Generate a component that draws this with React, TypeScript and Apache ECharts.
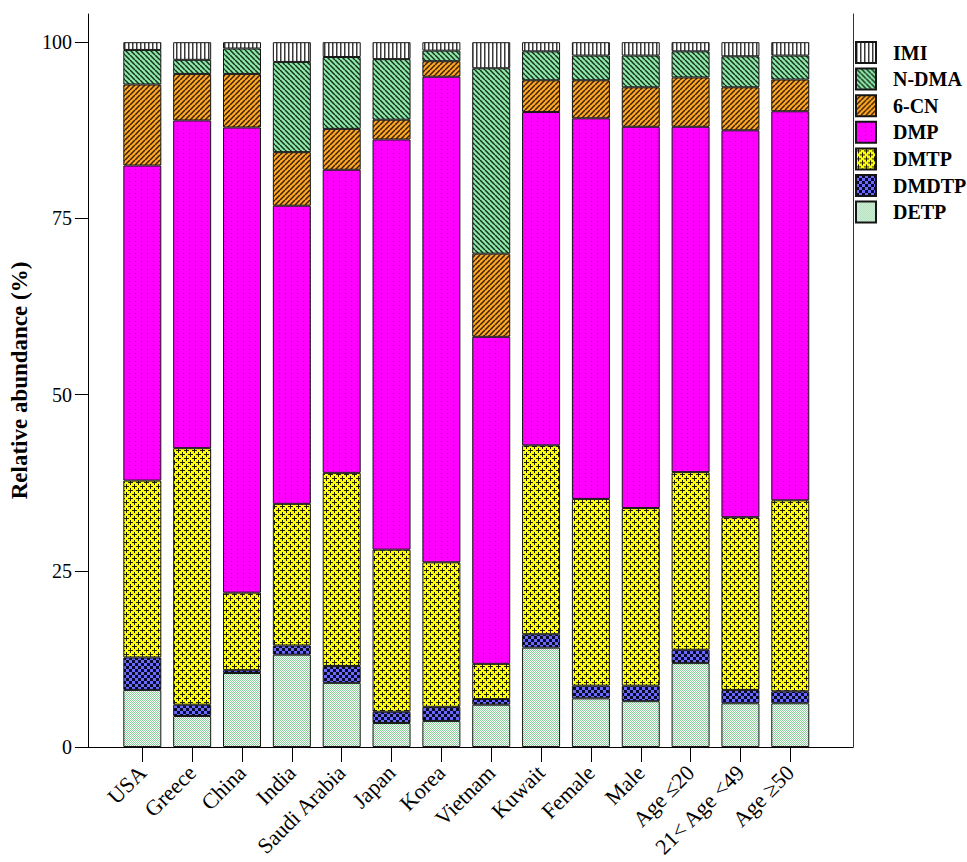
import React, { useEffect, useRef } from 'react';
import * as echarts from 'echarts';

const categories = ['USA', 'Greece', 'China', 'India', 'Saudi Arabia', 'Japan', 'Korea', 'Vietnam', 'Kuwait', 'Female', 'Male', 'Age \u226420', '21< Age <49', 'Age \u226550'];

const DETP = [8.1, 4.4, 10.5, 13.1, 9.1, 3.4, 3.7, 6.0, 14.1, 6.9, 6.5, 11.9, 6.2, 6.2];
const DMDTP = [4.6, 1.6, 0.4, 1.3, 2.4, 1.6, 2.0, 0.8, 1.9, 1.8, 2.2, 1.9, 1.9, 1.7];
const DMTP = [25.1, 36.4, 11.0, 20.1, 27.4, 23.0, 20.5, 5.0, 26.8, 26.5, 25.2, 25.2, 24.5, 27.1];
const DMP = [44.7, 46.5, 66.0, 42.3, 43.0, 58.2, 68.9, 46.4, 47.3, 54.0, 54.1, 49.0, 54.9, 55.2];
const CN6 = [11.5, 6.6, 7.6, 7.6, 5.8, 2.8, 2.2, 11.8, 4.5, 5.4, 5.6, 7.0, 6.1, 4.5];
const NDMA = [4.9, 2.0, 3.6, 12.8, 10.2, 8.6, 1.5, 26.3, 4.1, 3.5, 4.5, 3.7, 4.4, 3.4];
const IMI = [1.1, 2.5, 0.9, 2.8, 2.1, 2.4, 1.2, 3.7, 1.3, 1.9, 1.9, 1.3, 2.0, 1.9];

const seriesNames = ['DETP', 'DMDTP', 'DMTP', 'DMP', '6-CN', 'N-DMA', 'IMI'];
const seriesValues = [DETP, DMDTP, DMTP, DMP, CN6, NDMA, IMI];
const legendOrder = ['IMI', 'N-DMA', '6-CN', 'DMP', 'DMTP', 'DMDTP', 'DETP'];
const yTicks = [0, 25, 50, 75, 100];

const FONT = 'Liberation Serif';

function tile(w: number, h: number, draw: (ctx: CanvasRenderingContext2D) => void) {
  const c = document.createElement('canvas');
  c.width = w;
  c.height = h;
  const ctx = c.getContext('2d') as CanvasRenderingContext2D;
  draw(ctx);
  return { image: c, repeat: 'repeat', imageWidth: w, imageHeight: h };
}

function makePatterns(): Record<string, any> {
  return {
    IMI: tile(4, 4, (ctx) => {
      ctx.fillStyle = '#ffffff';
      ctx.fillRect(0, 0, 4, 4);
      ctx.fillStyle = '#3a3a3a';
      ctx.fillRect(0, 0, 1.5, 4);
    }),
    'N-DMA': tile(5, 5, (ctx) => {
      ctx.fillStyle = '#8ee8aa';
      ctx.fillRect(0, 0, 5, 5);
      ctx.strokeStyle = '#15301a';
      ctx.lineWidth = 1.5;
      for (const k of [-5, 0, 5]) {
        ctx.beginPath();
        ctx.moveTo(k, 0);
        ctx.lineTo(k + 5, 5);
        ctx.stroke();
      }
    }),
    '6-CN': tile(5, 5, (ctx) => {
      ctx.fillStyle = '#ffa726';
      ctx.fillRect(0, 0, 5, 5);
      ctx.strokeStyle = '#3a2000';
      ctx.lineWidth = 1.5;
      for (const k of [-5, 0, 5]) {
        ctx.beginPath();
        ctx.moveTo(k, 5);
        ctx.lineTo(k + 5, 0);
        ctx.stroke();
      }
    }),
    DMP: tile(6, 4, (ctx) => {
      ctx.fillStyle = '#ff00ff';
      ctx.fillRect(0, 0, 6, 4);
      ctx.fillStyle = '#a000a8';
      ctx.fillRect(3, 1, 1, 1);
    }),
    DMTP: tile(8, 8, (ctx) => {
      ctx.fillStyle = '#ffff00';
      ctx.fillRect(0, 0, 8, 8);
      ctx.fillStyle = '#1e1e00';
      const px = (x: number, y: number) => ctx.fillRect(((x % 8) + 8) % 8, ((y % 8) + 8) % 8, 1, 1);
      for (const [cx, cy] of [[2, 2], [6, 6]]) {
        for (let d = -2; d <= 2; d++) {
          px(cx + d, cy);
          if (d !== 0) px(cx, cy + d);
        }
      }
    }),
    DMDTP: tile(6, 6, (ctx) => {
      ctx.fillStyle = '#6a6aff';
      ctx.fillRect(0, 0, 6, 6);
      ctx.fillStyle = '#0a0a2a';
      ctx.fillRect(0, 0, 3, 3);
      ctx.fillRect(3, 3, 3, 3);
    }),
    DETP: tile(2, 2, (ctx) => {
      ctx.fillStyle = '#ffffff';
      ctx.fillRect(0, 0, 2, 2);
      ctx.fillStyle = '#86cf97';
      ctx.fillRect(0, 0, 1, 1);
      ctx.fillRect(1, 1, 1, 1);
    }),
  };
}

export default function App() {
  const ref = useRef<HTMLDivElement>(null);

  useEffect(() => {
    if (!ref.current) return;
    const chart = echarts.init(ref.current, undefined, { renderer: 'svg' });
    const patterns = makePatterns();

    const option: any = {
      animation: false,
      backgroundColor: '#ffffff',
      grid: [
        { left: 79, right: 114, top: 14, bottom: 115 },
        { left: 117.4, right: 151.8, top: 14, bottom: 115 },
      ],
      legend: {
        orient: 'vertical',
        left: 855,
        top: 41,
        padding: 0,
        itemWidth: 20,
        itemHeight: 21,
        itemGap: 3.6,
        icon: 'rect',
        selectedMode: false,
        data: legendOrder,
        textStyle: { fontSize: 20, fontWeight: 'bold', fontFamily: FONT, color: '#000', padding: [0, 0, 0, 12] },
      },
      xAxis: [
        {
          gridIndex: 0,
          type: 'value',
          min: 0,
          max: 1,
          axisLine: { show: true, lineStyle: { color: '#000', width: 1 } },
          axisTick: { show: false },
          axisLabel: { show: false },
          splitLine: { show: false },
        },
        {
          gridIndex: 1,
          type: 'category',
          data: categories,
          axisLine: { show: false },
          axisTick: { show: true, alignWithLabel: true, length: 15, lineStyle: { color: '#000', width: 1 } },
          axisLabel: { rotate: 45, interval: 0, fontSize: 22, fontFamily: FONT, color: '#000', margin: 22 },
          splitLine: { show: false },
        },
      ],
      yAxis: [
        {
          gridIndex: 0,
          type: 'value',
          min: 0,
          max: 104,
          position: 'left',
          axisLine: { show: true, lineStyle: { color: '#000', width: 1 } },
          axisTick: { show: true, length: 13, customValues: yTicks, lineStyle: { color: '#000', width: 1 } },
          axisLabel: { customValues: yTicks, fontSize: 20, fontFamily: FONT, color: '#000', margin: 16 },
          splitLine: { show: false },
          name: 'Relative abundance (%)',
          nameLocation: 'middle',
          nameGap: 56,
          nameTextStyle: { fontSize: 23, fontWeight: 'bold', fontFamily: FONT, color: '#000' },
        },
        {
          gridIndex: 0,
          type: 'value',
          min: 0,
          max: 104,
          position: 'right',
          axisLine: { show: true, lineStyle: { color: '#333', width: 1 } },
          axisTick: { show: false },
          axisLabel: { show: false },
          splitLine: { show: false },
        },
        {
          gridIndex: 1,
          type: 'value',
          min: 0,
          max: 104,
          show: false,
          splitLine: { show: false },
        },
      ],
      series: seriesNames.map((name, i) => ({
        name,
        type: 'bar',
        stack: 'total',
        xAxisIndex: 1,
        yAxisIndex: 2,
        barWidth: 38,
        data: seriesValues[i],
        itemStyle: { color: patterns[name], borderColor: '#151515', borderWidth: 1 },
        emphasis: { disabled: true },
      })),
    };

    chart.setOption(option);
    return () => chart.dispose();
  }, []);

  return (
    <div
      ref={ref}
      style={{ position: 'absolute', left: 0, top: 0, width: 967, height: 862, background: '#fff' }}
    />
  );
}
